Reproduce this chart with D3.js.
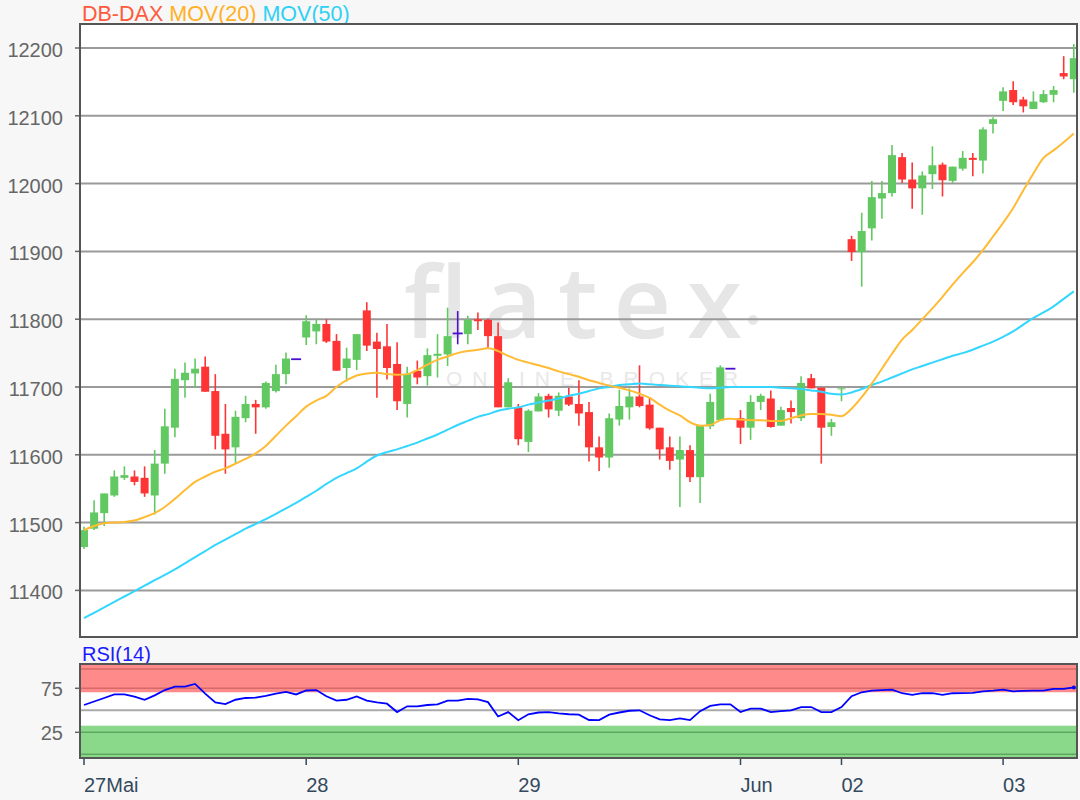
<!DOCTYPE html>
<html><head><meta charset="utf-8">
<script src="https://cdn.jsdelivr.net/npm/d3@7"></script>
<style>
html,body{margin:0;padding:0;background:#f7f7f7;}
svg{display:block;font-family:"Liberation Sans",Arial,sans-serif;}
</style></head><body>
<svg id="c" width="1080" height="800"></svg>
<script>
// ---- data ----
const opens = [11464,11491,11514,11540,11566,11568,11566,11540,11587,11640,
11710,11720,11730,11694,11631,11611,11654,11675,11670,11694,
11719,11741,11773,11782,11793,11768,11728,11740,11813,11767,
11760,11734,11675,11724,11716,11746,11748,11779,11778,11800,
11799,11775,11670,11670,11619,11664,11687,11665,11686,11675,
11663,11611,11596,11652,11670,11686,11674,11640,11611,11593,
11607,11567,11642,11651,11727,11654,11640,11678,11683,11643,
11669,11654,11713,11699,11641,11697,11918,11899,11934,11978,
11986,12039,12006,11993,12014,12028,12004,12022,12038,12034,
12088,12122,12138,12124,12110,12120,12131,12163,12154];
const highs = [11494,11533,11543,11577,11583,11577,11583,11607,11668,11727,
11736,11742,11745,11719,11675,11665,11687,11681,11708,11733,
11751,11741,11806,11800,11800,11778,11758,11778,11825,11780,
11793,11766,11730,11739,11757,11778,11817,11812,11805,11810,
11801,11795,11713,11675,11667,11691,11690,11692,11699,11710,
11678,11627,11661,11696,11698,11732,11685,11640,11627,11627,
11614,11643,11690,11732,11727,11666,11688,11690,11695,11671,
11680,11716,11719,11699,11653,11700,11923,11957,12004,12004,
12057,12045,12031,12018,12055,12031,12025,12048,12045,12083,
12098,12142,12151,12128,12136,12138,12144,12188,12206];
const lows = [11461,11489,11495,11538,11563,11555,11538,11512,11572,11626,
11684,11699,11693,11608,11572,11587,11648,11631,11668,11692,
11704,11741,11762,11763,11765,11724,11708,11725,11753,11684,
11711,11666,11655,11704,11702,11714,11731,11763,11763,11784,
11758,11670,11670,11614,11604,11664,11655,11657,11672,11643,
11590,11576,11581,11643,11652,11670,11637,11593,11578,11523,
11560,11529,11638,11651,11727,11616,11622,11666,11640,11643,
11646,11650,11698,11587,11628,11679,11886,11848,11916,11948,
11981,12001,11963,11954,11992,11981,12001,12019,12011,12015,
12074,12107,12116,12105,12110,12119,12120,12154,12134];
const closes = [11489,11515,11543,11568,11570,11560,11543,11587,11642,11712,
11721,11727,11693,11628,11608,11656,11675,11670,11706,11719,
11742,11741,11797,11793,11767,11724,11742,11778,11761,11756,
11728,11679,11719,11714,11747,11749,11775,11779,11799,11797,
11775,11670,11707,11623,11665,11686,11667,11687,11674,11661,
11611,11596,11654,11672,11686,11672,11639,11608,11591,11607,
11567,11643,11678,11729,11727,11640,11678,11687,11641,11666,
11663,11706,11698,11640,11648,11698,11899,11930,11980,11986,
12042,12006,11993,12012,12027,12005,12025,12038,12035,12080,
12095,12136,12120,12114,12121,12132,12138,12158,12185];
const mov20 = [11489,11495,11499,11500,11501,11503,11508,11514,11523,11535,
11548,11560,11568,11575,11580,11587,11594,11602,11613,11628,
11643,11657,11671,11680,11687,11700,11710,11717,11720,11721,
11719,11718,11719,11725,11733,11740,11745,11750,11753,11755,
11757,11753,11746,11740,11736,11732,11728,11723,11719,11715,
11710,11706,11702,11699,11695,11690,11684,11674,11665,11658,
11648,11643,11644,11651,11653,11652,11651,11651,11650,11650,
11654,11658,11660,11660,11659,11657,11668,11685,11705,11727,
11749,11770,11784,11800,11816,11833,11851,11868,11884,11902,
11922,11942,11964,11990,12015,12038,12049,12061,12074];
const mov50 = [11359,11367,11375,11383,11391,11399,11407,11415,11423,11431,
11440,11449,11458,11467,11475,11483,11491,11498,11505,11513,
11521,11529,11538,11547,11557,11566,11573,11580,11590,11599,
11604,11608,11613,11618,11624,11630,11637,11644,11650,11656,
11660,11665,11668,11670,11674,11677,11680,11683,11687,11690,
11694,11698,11700,11703,11704,11705,11704,11703,11702,11701,
11700,11699,11698,11699,11700,11700,11700,11700,11700,11699,
11698,11697,11695,11693,11690,11689,11692,11697,11703,11708,
11714,11720,11726,11731,11736,11741,11746,11750,11755,11761,
11767,11774,11782,11792,11802,11810,11819,11830,11841];
const rsi14 = [56,60,64,68,68,65.5,62,67,73,77,
77,80,69,59,57,62,64,64.5,66.5,69,
71,68,72.5,73,66,61,62,65.7,61,59,
57.5,48,54.5,54.5,56,56.7,61,61,63,62.5,
59.3,43,48,38.8,45.5,47.5,48,46.5,45.5,45,
39,38.8,45,47.5,49.5,50,44.4,39.6,38.8,40.7,
38.8,49,55,56.7,56.7,48,51.9,51.9,48,49,
50,53.7,53.7,48,48,53.7,66,70.5,72.4,73,
73.5,69.4,67.5,69.4,69.4,67.5,69.4,69.5,69.8,71.6,
72.4,73.5,71.6,72,72.4,72.4,74.3,74.3,76];
const xTickIdx = [0,22,43,65,75,91];
const xTickLabels = ["27Mai","28","29","Jun","02","03"];
const yTicks = [11400,11500,11600,11700,11800,11900,12000,12100,12200];
const rsiTicks = [25,75];

// ---- layout ----
const W=1080,H=800;
const P={l:80,r:1077,t:24,b:637};
const R={t:664,b:758};
const svg=d3.select('#c');
svg.append('rect').attr('width',W).attr('height',H).attr('fill','#f7f7f7');

const x=d3.scaleLinear().domain([0,opens.length-1]).range([84,1073.8]);
const y=d3.scaleLinear().domain([11400,12200]).range([590.4,48]);
const yr=d3.scaleLinear().domain([25,75]).range([732.3,688.3]);

const defs=svg.append('defs');
defs.append('clipPath').attr('id','clipMain').append('rect')
  .attr('x',P.l).attr('y',P.t).attr('width',P.r-P.l).attr('height',P.b-P.t);
defs.append('clipPath').attr('id','clipRsi').append('rect')
  .attr('x',P.l).attr('y',R.t).attr('width',P.r-P.l).attr('height',R.b-R.t);

// title
const title=svg.append('text').attr('x',82).attr('y',20.5).attr('font-size',21.5);
title.append('tspan').attr('fill','#ff5a3c').text('DB-DAX ');
title.append('tspan').attr('fill','#ffb025').text('MOV(20) ');
title.append('tspan').attr('fill','#2fd0f5').text('MOV(50)');

// main plot background
svg.append('rect').attr('x',P.l).attr('y',P.t).attr('width',P.r-P.l).attr('height',P.b-P.t).attr('fill','#fff');

// watermark
const wm=svg.append('g').attr('clip-path','url(#clipMain)');
wm.append('text').attr('x',404).attr('y',338).attr('font-size',100).attr('font-family','"Open Sans",sans-serif')
  .attr('font-weight',600).attr('fill','#e6e6e6').attr('textLength',338).attr('lengthAdjust','spacing').text('flatex');
wm.append('circle').attr('cx',753).attr('cy',320).attr('r',5).attr('fill','#e6e6e6');
wm.append('text').attr('x',446).attr('y',386).attr('font-size',21).attr('fill','#e8e8e8')
  .attr('textLength',292).attr('lengthAdjust','spacing').text('ONLINE BROKER');

// gridlines
svg.append('g').selectAll('line').data(yTicks).join('line')
  .attr('x1',P.l).attr('x2',P.r).attr('y1',d=>y(d)).attr('y2',d=>y(d))
  .attr('stroke','#9a9a9a').attr('stroke-width',2);
// y ticks + labels
const ya=svg.append('g');
ya.selectAll('line').data(yTicks).join('line')
  .attr('x1',75).attr('x2',P.l).attr('y1',d=>y(d)).attr('y2',d=>y(d)).attr('stroke','#666').attr('stroke-width',1.5);
ya.selectAll('text').data(yTicks).join('text')
  .attr('x',63).attr('y',d=>y(d)+9).attr('text-anchor','end').attr('font-size',20).attr('fill','#666').text(d=>d);

// candles
const cg=svg.append('g').attr('clip-path','url(#clipMain)');
const colr=i=>closes[i]>opens[i]?'#62c962':(closes[i]<opens[i]?'#ff3535':'#4a10d0');
const idx=d3.range(opens.length);
cg.selectAll('line.w').data(idx).join('line').attr('class','w')
  .attr('x1',i=>x(i)).attr('x2',i=>x(i)).attr('y1',i=>y(highs[i])).attr('y2',i=>y(lows[i]))
  .attr('stroke',colr).attr('stroke-width',1.6);
cg.selectAll('rect.b').data(idx.filter(i=>closes[i]!==opens[i])).join('rect').attr('class','b')
  .attr('x',i=>x(i)-4).attr('width',8)
  .attr('y',i=>y(Math.max(opens[i],closes[i])))
  .attr('height',i=>Math.max(1,Math.abs(y(opens[i])-y(closes[i]))))
  .attr('fill',colr);
cg.selectAll('line.d').data(idx.filter(i=>closes[i]===opens[i])).join('line').attr('class','d')
  .attr('x1',i=>x(i)-5).attr('x2',i=>x(i)+5).attr('y1',i=>y(opens[i])).attr('y2',i=>y(opens[i]))
  .attr('stroke',colr).attr('stroke-width',1.8);

// moving averages
const lineMain=d3.line().x((d,i)=>x(i)).y(d=>y(d)).curve(d3.curveMonotoneX);
cg.append('path').datum(mov50).attr('d',lineMain).attr('fill','none').attr('stroke','#33d6ff').attr('stroke-width',2);
cg.append('path').datum(mov20).attr('d',lineMain).attr('fill','none').attr('stroke','#ffbb33').attr('stroke-width',2);

// main border
svg.append('rect').attr('x',P.l).attr('y',P.t).attr('width',P.r-P.l).attr('height',P.b-P.t)
  .attr('fill','none').attr('stroke','#555').attr('stroke-width',2);

// ---- RSI panel ----
svg.append('text').attr('x',82).attr('y',661).attr('font-size',20).attr('fill','#1a1aff').text('RSI(14)');
const rg=svg.append('g').attr('clip-path','url(#clipRsi)');
rg.append('rect').attr('x',P.l).attr('y',R.t).attr('width',P.r-P.l).attr('height',R.b-R.t).attr('fill','#fff');
rg.append('rect').attr('x',P.l).attr('y',R.t).attr('width',P.r-P.l).attr('height',yr(70.5)-R.t).attr('fill','#ff8a8a');
rg.append('rect').attr('x',P.l).attr('y',yr(32.5)).attr('width',P.r-P.l).attr('height',R.b-yr(32.5)).attr('fill','#8ad98a');
[[97,'#d66a6a'],[75,'#d66a6a'],[25,'#5ea85e'],[0,'#5ea85e']].forEach(([v,c])=>{
  rg.append('line').attr('x1',P.l).attr('x2',P.r).attr('y1',yr(v)).attr('y2',yr(v)).attr('stroke',c).attr('stroke-width',1.5);
});
rg.append('line').attr('x1',P.l).attr('x2',P.r).attr('y1',yr(50)).attr('y2',yr(50)).attr('stroke','#aaa').attr('stroke-width',2);
const lineR=d3.line().x((d,i)=>x(i)).y(d=>yr(d));
rg.append('path').datum(rsi14).attr('d',lineR).attr('fill','none').attr('stroke','#0000ff').attr('stroke-width',1.8);
rg.append('circle').attr('cx',x(rsi14.length-1)).attr('cy',yr(rsi14[rsi14.length-1])).attr('r',2).attr('fill','#0000ff');
svg.append('rect').attr('x',P.l).attr('y',R.t).attr('width',P.r-P.l).attr('height',R.b-R.t)
  .attr('fill','none').attr('stroke','#555').attr('stroke-width',2);
const ra=svg.append('g');
ra.selectAll('line').data(rsiTicks).join('line')
  .attr('x1',75).attr('x2',P.l).attr('y1',d=>yr(d)).attr('y2',d=>yr(d)).attr('stroke','#666').attr('stroke-width',1.5);
ra.selectAll('text').data(rsiTicks).join('text')
  .attr('x',63).attr('y',d=>yr(d)+8).attr('text-anchor','end').attr('font-size',20).attr('fill','#666').text(d=>d);

// x axis (below RSI)
const xa=svg.append('g');
xa.selectAll('line').data(xTickIdx).join('line')
  .attr('x1',d=>x(d)).attr('x2',d=>x(d)).attr('y1',R.b+1).attr('y2',R.b+7).attr('stroke','#34495e').attr('stroke-width',1.5);
xa.selectAll('text').data(xTickIdx).join('text')
  .attr('x',d=>x(d)).attr('y',792).attr('font-size',20).attr('fill','#34495e').text((d,i)=>xTickLabels[i]);
</script>
</body></html>
